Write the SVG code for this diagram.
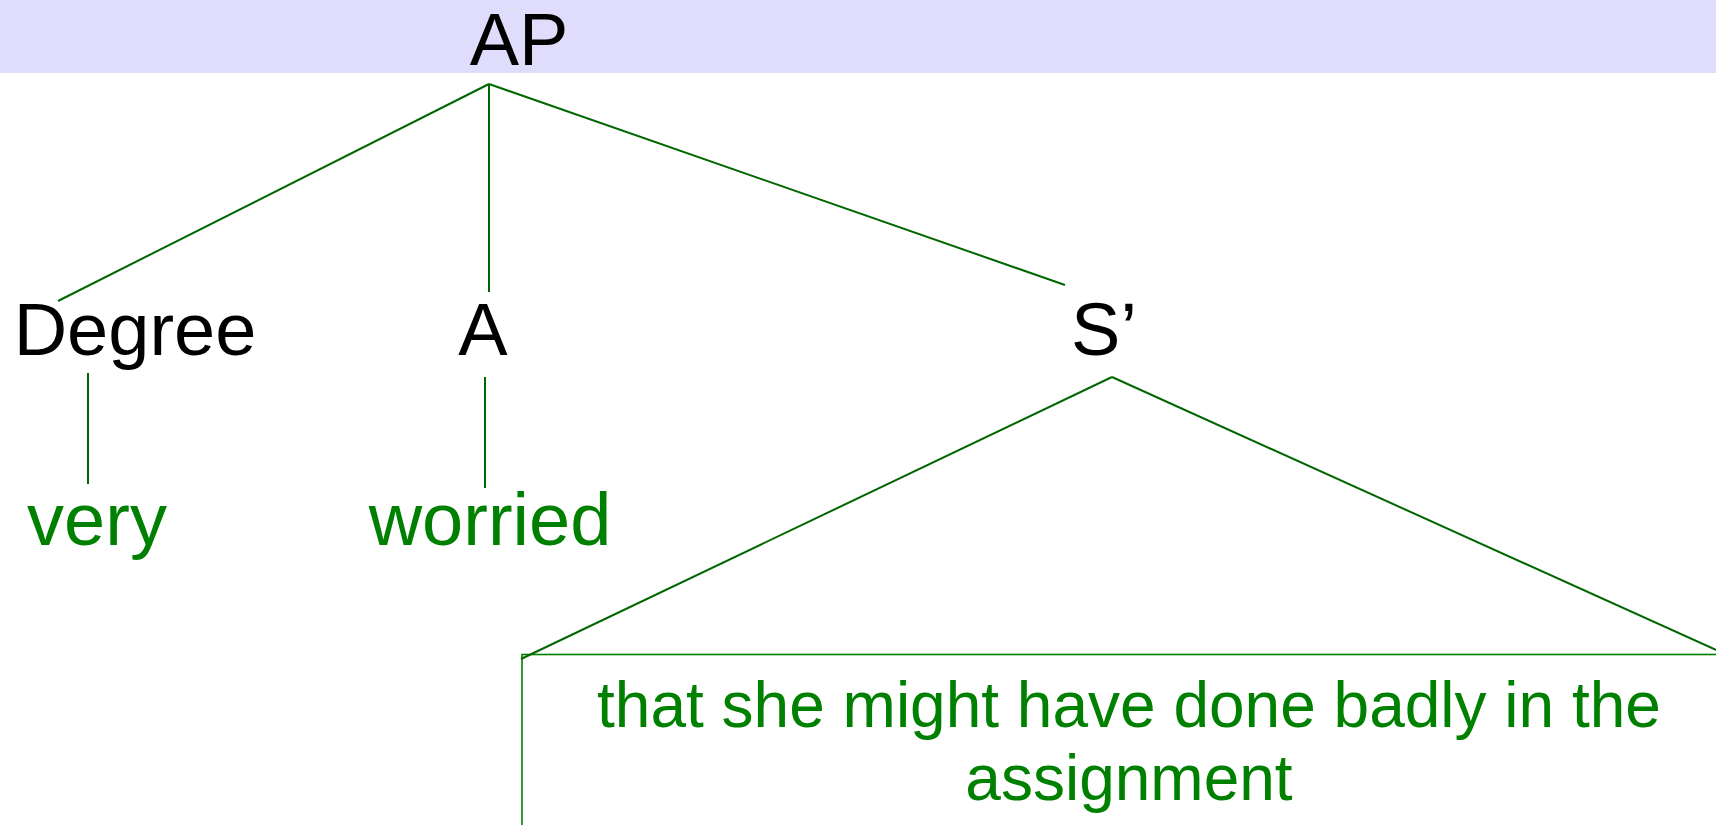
<svg xmlns="http://www.w3.org/2000/svg" width="1716" height="825" viewBox="0 0 1716 825">
<style>
.lbl{font-family:"Liberation Sans",Arial,sans-serif;font-size:74px;fill:#000;text-anchor:middle}
.word{font-family:"Liberation Sans",Arial,sans-serif;font-size:74px;fill:#008000;text-anchor:middle}
.box-text{font-family:"Liberation Sans",Arial,sans-serif;font-size:64px;fill:#008000;text-anchor:middle}
.edge{stroke:#006600;stroke-width:2;fill:none}
.box{stroke:#008000;stroke-width:1.6;fill:none}
</style>
<rect x="0" y="0" width="1716" height="73" fill="#e0ddfc"/>
<g id="AP"><text class="lbl" x="519" y="65">AP</text></g>
<g id="Degree"><text class="lbl" x="135" y="355">Degree</text></g>
<g id="A"><text class="lbl" x="483" y="355">A</text></g>
<g id="Sbar"><text class="lbl" x="1104" y="355">S’</text></g>
<g id="very"><text class="word" x="97" y="545">very</text></g>
<g id="worried"><text class="word" x="490" y="545">worried</text></g>
<g id="clause">
<rect class="box" x="522" y="654.5" width="1214" height="200"/>
<text class="box-text" x="1129" y="727">that she might have done badly in the</text>
<text class="box-text" x="1129" y="800">assignment</text>
</g>
<g id="connectors">
<line class="edge" x1="489" y1="84" x2="58" y2="301"/>
<line class="edge" x1="489" y1="84" x2="489" y2="292"/>
<line class="edge" x1="489" y1="84" x2="1065" y2="285"/>
<line class="edge" x1="88" y1="373" x2="88" y2="484"/>
<line class="edge" x1="485" y1="377" x2="485" y2="488"/>
<line class="edge" x1="1112" y1="377" x2="521" y2="659"/>
<line class="edge" x1="1112" y1="377" x2="1736" y2="659"/>
</g>
</svg>
